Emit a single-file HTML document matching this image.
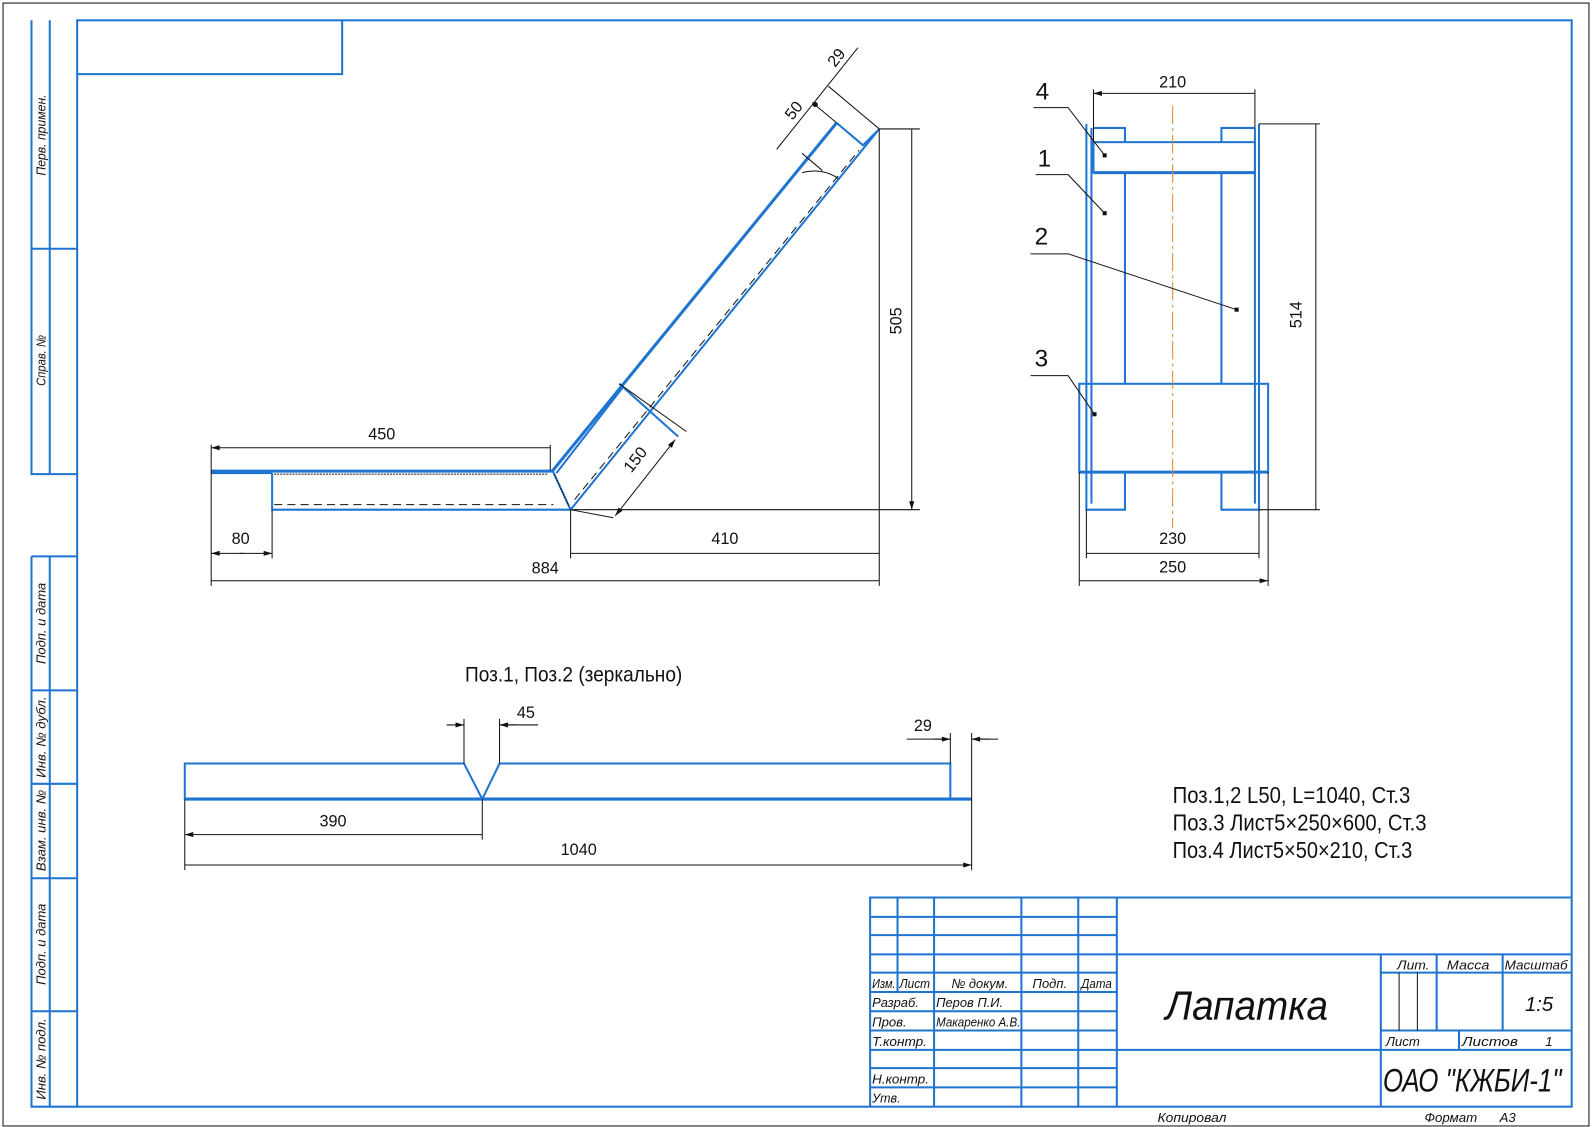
<!DOCTYPE html>
<html><head><meta charset="utf-8"><style>
html,body{margin:0;padding:0;background:#fff;}
svg{display:block}
text{font-family:"Liberation Sans Narrow","Liberation Sans","DejaVu Sans",sans-serif;fill:#111}
.b{stroke:#1f74d2;fill:none;stroke-width:2}
.bt{stroke:#1f74d2;fill:none;stroke-width:3}
.k{stroke:#111;fill:none;stroke-width:1}
.it{font-style:italic}
</style></head><body>
<svg width="1592" height="1127" viewBox="0 0 1568 1110" preserveAspectRatio="none" xmlns="http://www.w3.org/2000/svg">
<defs>
<marker id="a" viewBox="0 0 10 6" refX="10" refY="3" markerWidth="14" markerHeight="5" orient="auto-start-reverse" markerUnits="userSpaceOnUse"><path d="M0,0 L10,3 L0,6 Z" fill="#111"/></marker>
</defs>
<rect x="3" y="3" width="1562" height="1106" fill="none" stroke="#111" stroke-width="1"/>
<rect x="76" y="20" width="1472" height="1070" class="b"/>
<path class="b" d="M31,20 V467 H76 M49,20 V467 M31,245 H76 M76,73 H337 V20"/>
<path class="b" d="M31,548 V1090 H76 M49,548 V1090 M31,548 H76 M31,680 H76 M31,772 H76 M31,865 H76 M31,996 H76"/>
<g font-size="13" class="it">
<text transform="translate(45,133) rotate(-90)" text-anchor="middle" textLength="80" lengthAdjust="spacingAndGlyphs">Перв. примен.</text>
<text transform="translate(45,355) rotate(-90)" text-anchor="middle" textLength="50" lengthAdjust="spacingAndGlyphs">Справ. №</text>
<text transform="translate(45,614) rotate(-90)" text-anchor="middle" textLength="80" lengthAdjust="spacingAndGlyphs">Подп. и дата</text>
<text transform="translate(45,726) rotate(-90)" text-anchor="middle" textLength="80" lengthAdjust="spacingAndGlyphs">Инв. № дубл.</text>
<text transform="translate(45,818) rotate(-90)" text-anchor="middle" textLength="80" lengthAdjust="spacingAndGlyphs">Взам. инв. №</text>
<text transform="translate(45,930) rotate(-90)" text-anchor="middle" textLength="80" lengthAdjust="spacingAndGlyphs">Подп. и дата</text>
<text transform="translate(45,1043) rotate(-90)" text-anchor="middle" textLength="80" lengthAdjust="spacingAndGlyphs">Инв. № подл.</text>
</g>
<path class="b" d="M857,1090 V884 H1548 M857,903 H1100 M857,921 H1100 M857,940 H1548 M857,958 H1100 M857,977 H1100 M857,996 H1100 M857,1015 H1100 M857,1034 H1548 M857,1052 H1100 M857,1071 H1100 M884,884 V977 M920,884 V1090 M1006,884 V1090 M1062,884 V1090 M1100,884 V1090 M1360,940 V1090 M1360,958 H1548 M1360,1015 H1548 M1415,940 V1015 M1480,940 V1015 M1437,1015 V1034"/>
<path class="k" d="M1378,958 V1015 M1396,958 V1015"/>
<g class="it" font-size="13">
<text x="859" y="973" textLength="23" lengthAdjust="spacingAndGlyphs">Изм.</text><text x="886" y="973" textLength="30" lengthAdjust="spacingAndGlyphs">Лист</text><text x="937" y="973" textLength="56" lengthAdjust="spacingAndGlyphs">№ докум.</text><text x="1017" y="973" textLength="34" lengthAdjust="spacingAndGlyphs">Подп.</text><text x="1065" y="973" textLength="30" lengthAdjust="spacingAndGlyphs">Дата</text>
<text x="859" y="992" textLength="46" lengthAdjust="spacingAndGlyphs">Разраб.</text><text x="922" y="992" textLength="66" lengthAdjust="spacingAndGlyphs">Перов П.И.</text>
<text x="859" y="1011" textLength="34" lengthAdjust="spacingAndGlyphs">Пров.</text><text x="922" y="1011" textLength="83" lengthAdjust="spacingAndGlyphs">Макаренко А.В.</text>
<text x="859" y="1030" textLength="54" lengthAdjust="spacingAndGlyphs">Т.контр.</text>
<text x="859" y="1067" textLength="56" lengthAdjust="spacingAndGlyphs">Н.контр.</text><text x="859" y="1086" textLength="28" lengthAdjust="spacingAndGlyphs">Утв.</text>
<text x="1376" y="955" textLength="32" lengthAdjust="spacingAndGlyphs">Лит.</text><text x="1425" y="955" textLength="42" lengthAdjust="spacingAndGlyphs">Масса</text><text x="1482" y="955" textLength="62" lengthAdjust="spacingAndGlyphs">Масштаб</text>
<text x="1502" y="996" font-size="20">1:5</text>
<text x="1365" y="1030">Лист</text><text x="1440" y="1030" textLength="55" lengthAdjust="spacingAndGlyphs">Листов</text><text x="1522" y="1030">1</text>
<text x="1148" y="1004" font-size="40" textLength="160" lengthAdjust="spacingAndGlyphs">Лапатка</text>
<text x="1362" y="1075" font-size="32" textLength="176" lengthAdjust="spacingAndGlyphs">ОАО "КЖБИ-1"</text>
<text x="1140" y="1105" textLength="68" lengthAdjust="spacingAndGlyphs">Копировал</text><text x="1403" y="1105" textLength="52" lengthAdjust="spacingAndGlyphs">Формат</text><text x="1477" y="1105">А3</text>
</g>
<!-- side view -->
<path class="bt" d="M208,464 H544 L824,121"/>
<path class="b" d="M268,466 V502 H562 L866,127 M824,121 L850,143 L866,127 M548,466 L613,382 M544,463 L562,502 M208,466 H268"/>
<path class="b" d="M610,378 L668,430"/>
<path class="k" stroke-dasharray="8,5" d="M270,497 H545 M566,492 L846,148"/>
<path class="k" stroke-dasharray="2,1" stroke-width="2" d="M270,467 H540 M546,467 L560,498"/>
<path class="k" d="M826,176 Q810,165 790,170"/>
<path class="k" d="M208,438 V577 M268,502 V550 M562,502 V550 M866,127 V577 M542,438 V463 M866,127 H906 M562,502 H906"/>
<path class="k" marker-start="url(#a)" marker-end="url(#a)" d="M208,441 H542 M562,545 H866 M208,572 H866 M898,127 V502"/>
<path class="k" marker-end="url(#a)" d="M240,545 H208"/><path class="k" marker-end="url(#a)" d="M236,545 H268"/>
<path class="k" d="M562,502 L604,510 M610,378 L676,425 M824,121 L800,101 M866,127 L816,85 M810,168 L790,151 M765,147 L845,47"/>
<path class="k" marker-start="url(#a)" marker-end="url(#a)" d="M606,508 L665,433"/>
<circle cx="803" cy="103" r="2.5" fill="#111"/>
<g font-size="16">
<text x="376" y="433" text-anchor="middle">450</text>
<text x="237" y="536" text-anchor="middle">80</text>
<text x="714" y="536" text-anchor="middle">410</text>
<text x="537" y="565" text-anchor="middle">884</text>
<text transform="translate(888,316) rotate(-90)" text-anchor="middle">505</text>
<text transform="translate(630,456) rotate(-52)" text-anchor="middle">150</text>
<text transform="translate(786,112) rotate(-52)" text-anchor="middle">50</text>
<text transform="translate(828,60) rotate(-52)" text-anchor="middle">29</text>
</g>
<!-- front view -->
<path class="b" d="M1070,122 V502 H1108 V465 M1075,126 V496 M1240,122 V502 H1203 V465 M1236,126 V496 M1077,126 H1108 V140 M1203,140 V126 H1236 M1108,170 V378 M1203,170 V378"/>
<rect x="1077" y="140" width="159" height="30" class="b"/>
<path class="bt" d="M1077,170 H1236"/>
<rect x="1063" y="378" width="186" height="87" class="b"/>
<path class="bt" d="M1063,465 H1249"/>
<path stroke="#d9892a" stroke-width="1" stroke-dasharray="18,4,3,4" d="M1155,104 V520"/>
<path class="k" d="M1077,88 V140 M1236,88 V126 M1240,122 H1300 M1240,502 H1300 M1063,465 V577 M1249,465 V577 M1070,502 V550 M1240,502 V550"/>
<path class="k" marker-start="url(#a)" marker-end="url(#a)" d="M1077,92 H1236 M1296,122 V502 M1070,545 H1240 M1063,572 H1249"/>
<path class="k" d="M1018,106 H1052 L1088,153 M1020,172 H1052 L1088,210 M1015,250 H1052 L1218,305 M1015,370 H1052 L1078,408"/>
<g fill="#111"><rect x="1086" y="151" width="4" height="4"/><rect x="1086" y="208" width="4" height="4"/><rect x="1216" y="303" width="4" height="4"/><rect x="1076" y="406" width="4" height="4"/></g>
<g font-size="16">
<text x="1155" y="86" text-anchor="middle">210</text>
<text transform="translate(1282,310) rotate(-90)" text-anchor="middle">514</text>
<text x="1155" y="536" text-anchor="middle">230</text>
<text x="1155" y="564" text-anchor="middle">250</text>
</g>
<g font-size="24"><text x="1020" y="98">4</text><text x="1022" y="164">1</text><text x="1019" y="241">2</text><text x="1019" y="361">3</text></g>
<!-- bottom part -->
<text x="458" y="671" font-size="21" textLength="214" lengthAdjust="spacingAndGlyphs">Поз.1, Поз.2 (зеркально)</text>
<path class="b" d="M182,787 V752 H457 L475,787 L492,752 H936 V787"/>
<path class="bt" d="M182,787 H957"/>
<path class="k" d="M457,708 V752 M492,708 V752 M475,787 V827 M182,787 V857 M957,722 V857 M936,722 V752 M893,728 H936 M983,728 H957 M492,714 H530"/>
<path class="k" marker-end="url(#a)" d="M440,714 H457"/><path class="k" marker-end="url(#a)" d="M510,714 H492"/>
<path class="k" marker-end="url(#a)" d="M920,728 H936"/><path class="k" marker-end="url(#a)" d="M975,728 H957"/>
<path class="k" marker-start="url(#a)" marker-end="url(#a)" d="M182,822 H475 M182,852 H957"/>
<g font-size="16">
<text x="518" y="707" text-anchor="middle">45</text>
<text x="909" y="720" text-anchor="middle">29</text>
<text x="328" y="814" text-anchor="middle">390</text>
<text x="570" y="842" text-anchor="middle">1040</text>
</g>
<g font-size="23">
<text x="1155" y="791" textLength="234" lengthAdjust="spacingAndGlyphs">Поз.1,2 L50, L=1040, Ст.3</text>
<text x="1155" y="818" textLength="250" lengthAdjust="spacingAndGlyphs">Поз.3 Лист5×250×600, Ст.3</text>
<text x="1155" y="845" textLength="236" lengthAdjust="spacingAndGlyphs">Поз.4 Лист5×50×210, Ст.3</text>
</g>
</svg>
</body></html>
